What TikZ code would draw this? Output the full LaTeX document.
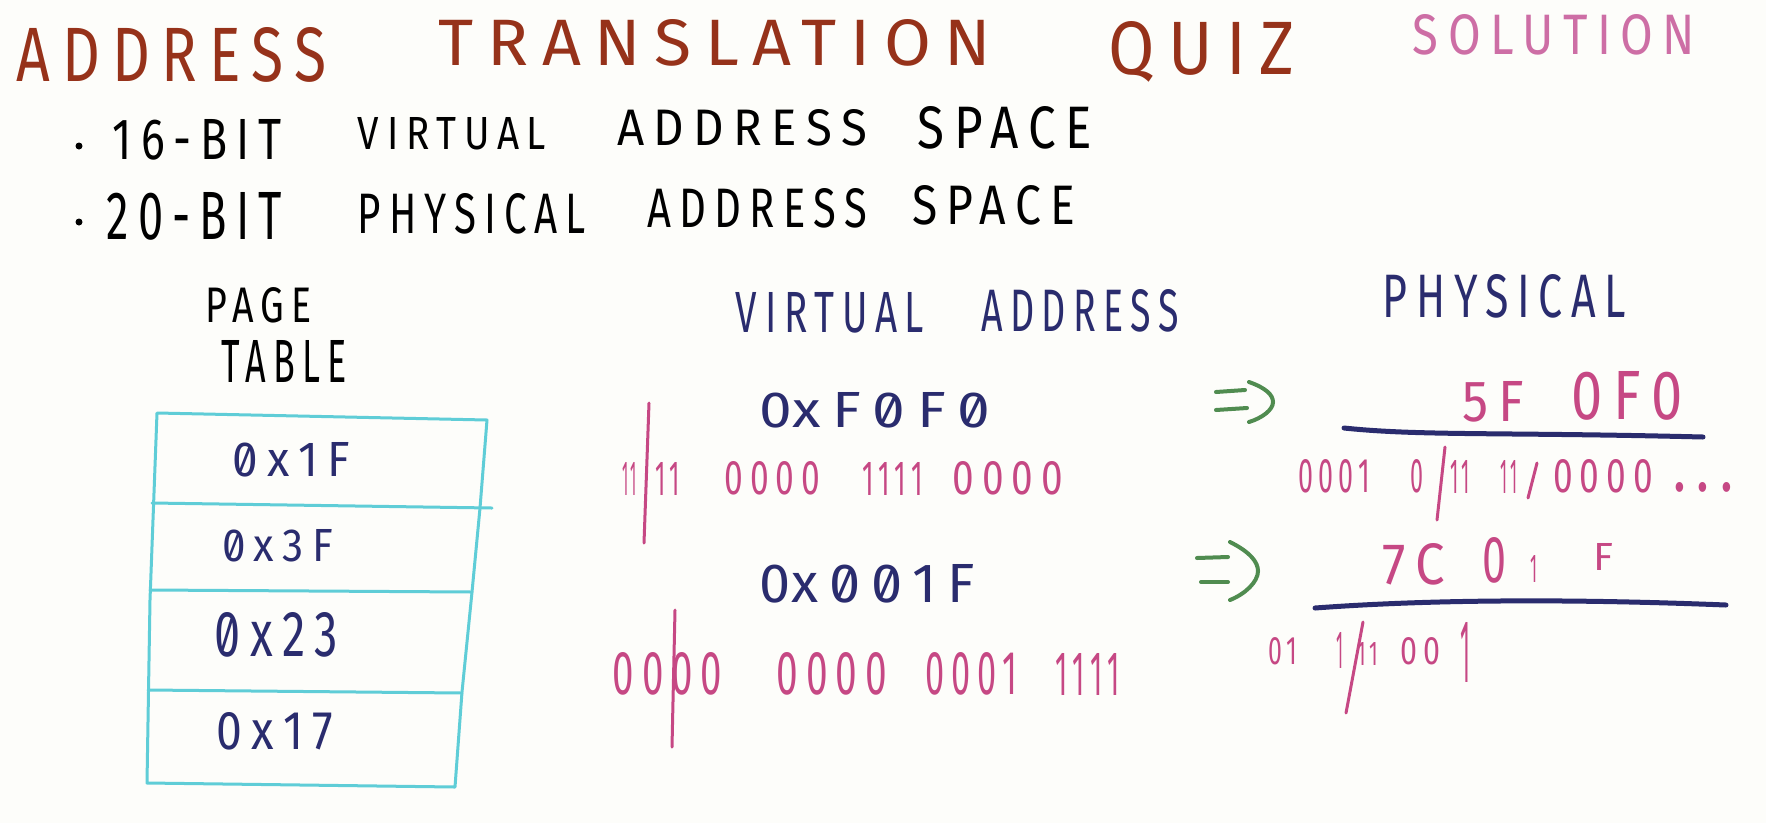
\documentclass[tikz,border=0pt]{standalone}
\usepackage{fontspec}
\usepackage{graphicx}
\newfontfamily\hand{Fira Sans}[LetterSpace=20]
\newfontfamily\handz{Fira Sans}[LetterSpace=20, Numbers=SlashedZero]
\definecolor{titlebrown}{RGB}{150,50,26}
\definecolor{solpink}{RGB}{205,110,165}
\definecolor{navy}{RGB}{42,44,110}
\definecolor{binpink}{RGB}{198,72,132}
\definecolor{arrgreen}{RGB}{80,140,80}
\definecolor{tblcyan}{RGB}{95,205,215}
\definecolor{bgwhite}{RGB}{253,253,250}
\tikzset{
  txt/.style={inner sep=0pt, outer sep=0pt},
  pinkline/.style={draw=binpink, line width=3pt, line cap=round},
  navyline/.style={draw=navy, line width=5pt, line cap=round},
  tblline/.style={draw=tblcyan, line width=3pt, line cap=round, line join=round},
  greenline/.style={draw=arrgreen, line width=4pt, line cap=round},
}
% \hw{name}{colour}{x1}{x2}{y1}{y2}{text}
\newcommand\hw[7]{\node[txt, text=#2] (#1) at ({(#3+#4)/2},{(#5+#6)/2})
  {\resizebox{\dimexpr #4pt-#3pt\relax}{\dimexpr #6pt-#5pt\relax}{\hand #7}};}
\begin{document}
\begin{tikzpicture}[x=1pt,y=-1pt]
\useasboundingbox (0,0) rectangle (1766,823);
\fill[bgwhite] (0,0) rectangle (1766,823);
% title
\hw{tA}{titlebrown}{17}{327}{28}{82}{ADDRESS}
\hw{tB}{titlebrown}{439}{991}{20}{66}{TRANSLATION}
\hw{tC}{titlebrown}{1109}{1295}{25}{78}{QUIZ}
\hw{tD}{solpink}{1413}{1695}{15}{55}{SOLUTION}
% bullets
\fill (79,146) circle (3.5);
\fill (79,222) circle (3.5);
\hw{bA}{black}{113}{282}{120}{160}{16-BIT}
\hw{bB}{black}{358}{546}{118}{150}{VIRTUAL}
\hw{bC}{black}{617}{867}{110}{146}{ADDRESS}
\hw{bD}{black}{918}{1092}{107}{149}{SPACE}
\hw{cA}{black}{107}{282}{193}{240}{20-BIT}
\hw{cB}{black}{358}{586}{194}{234}{PHYSICAL}
\hw{cC}{black}{647}{867}{189}{228}{ADDRESS}
\hw{cD}{black}{912}{1075}{186}{225}{SPACE}
% page table
\hw{ptA}{black}{205}{312}{288}{323}{PAGE}
\hw{ptB}{black}{222}{347}{340}{382}{TABLE}
\draw[tblline] (157,413) -- (487,420) -- (480,508) -- (472,592) -- (462,692) -- (455,787) -- (147,783) -- (150,600) -- cycle;
\draw[tblline] (152,503) -- (492,508);
\draw[tblline] (150,590) -- (472,592);
\draw[tblline] (148,690) -- (462,693);
\hw{eA}{navy}{233}{350}{443}{477}{\handz 0x1F}
\hw{eB}{navy}{222}{333}{530}{562}{\handz 0x3F}
\hw{eC}{navy}{215}{338}{613}{657}{\handz 0x23}
\hw{eD}{navy}{217}{333}{713}{750}{0x17}
% headings
\hw{hA}{navy}{736}{924}{293}{333}{VIRTUAL}
\hw{hB}{navy}{981}{1179}{290}{332}{ADDRESS}
\hw{hC}{navy}{1383}{1626}{275}{318}{PHYSICAL}
% virtual addresses
\hw{vA}{navy}{760}{990}{393}{428}{\handz{\hand 0}xF0F0}
\hw{vB}{navy}{760}{975}{565}{603}{\handz{\hand 0}x001F}
% binary row 1 (virtual)
\hw{rA}{binpink}{622}{637}{462}{495}{11}
\hw{rB}{binpink}{655}{680}{462}{495}{11}
\hw{rC}{binpink}{725}{820}{462}{495}{0000}
\hw{rD}{binpink}{862}{923}{462}{495}{1111}
\hw{rE}{binpink}{953}{1063}{462}{495}{0000}
\draw[pinkline] (649,403) -- (644,543);
% binary row 2 (virtual)
\hw{sA}{binpink}{613}{722}{653}{695}{0000}
\hw{sB}{binpink}{777}{887}{653}{695}{0000}
\hw{sC}{binpink}{925}{1017}{653}{695}{0001}
\hw{sD}{binpink}{1055}{1120}{653}{695}{1111}
\draw[pinkline] (675,610) -- (672,747);
% arrows
\draw[greenline] (1216,392) -- (1245,390);
\draw[greenline] (1216,410) -- (1247,408);
\draw[greenline] (1249,382) .. controls (1266,388) and (1273,395) .. (1273,402) .. controls (1273,410) and (1262,418) .. (1249,422);
\draw[greenline] (1197,558) -- (1228,557);
\draw[greenline] (1201,582) -- (1228,582);
\draw[greenline] (1230,542) .. controls (1250,552) and (1258,562) .. (1258,571) .. controls (1258,582) and (1245,594) .. (1230,600);
% physical results
\hw{pA}{binpink}{1462}{1524}{382}{422}{5F}
\hw{pB}{binpink}{1571}{1683}{372}{420}{0F0}
\draw[navyline] (1344,428) .. controls (1420,436) and (1500,432) .. (1703,437);
\hw{qA}{binpink}{1382}{1445}{544}{585}{7C}
\hw{qB}{binpink}{1482}{1506}{538}{583}{0}
\hw{qC}{binpink}{1530}{1537}{555}{582}{1}
\hw{qD}{binpink}{1593}{1613}{543}{570}{F}
\draw[navyline] (1315,608) .. controls (1450,598) and (1600,600) .. (1726,605);
% binary row 1 (physical)
\hw{uA}{binpink}{1298}{1370}{460}{493}{0001}
\hw{uB}{binpink}{1410}{1423}{460}{493}{0}
\hw{uC}{binpink}{1450}{1470}{460}{493}{11}
\hw{uD}{binpink}{1500}{1517}{460}{493}{11}
\hw{uE}{binpink}{1553}{1653}{460}{493}{0000}
\hw{uF}{binpink}{1673}{1733}{483}{492}{...}
\draw[pinkline] (1445,447) -- (1437,520);
\draw[pinkline] (1537,463) -- (1528,498);
% binary row 2 (physical)
\hw{wA}{binpink}{1268}{1297}{638}{665}{01}
\hw{wB}{binpink}{1336}{1343}{632}{668}{1}
\hw{wC}{binpink}{1357}{1378}{642}{665}{11}
\hw{wD}{binpink}{1400}{1440}{638}{665}{00}
\hw{wE}{binpink}{1460}{1470}{622}{682}{1}
\draw[pinkline] (1363,622) -- (1346,713);
\end{tikzpicture}
\end{document}
